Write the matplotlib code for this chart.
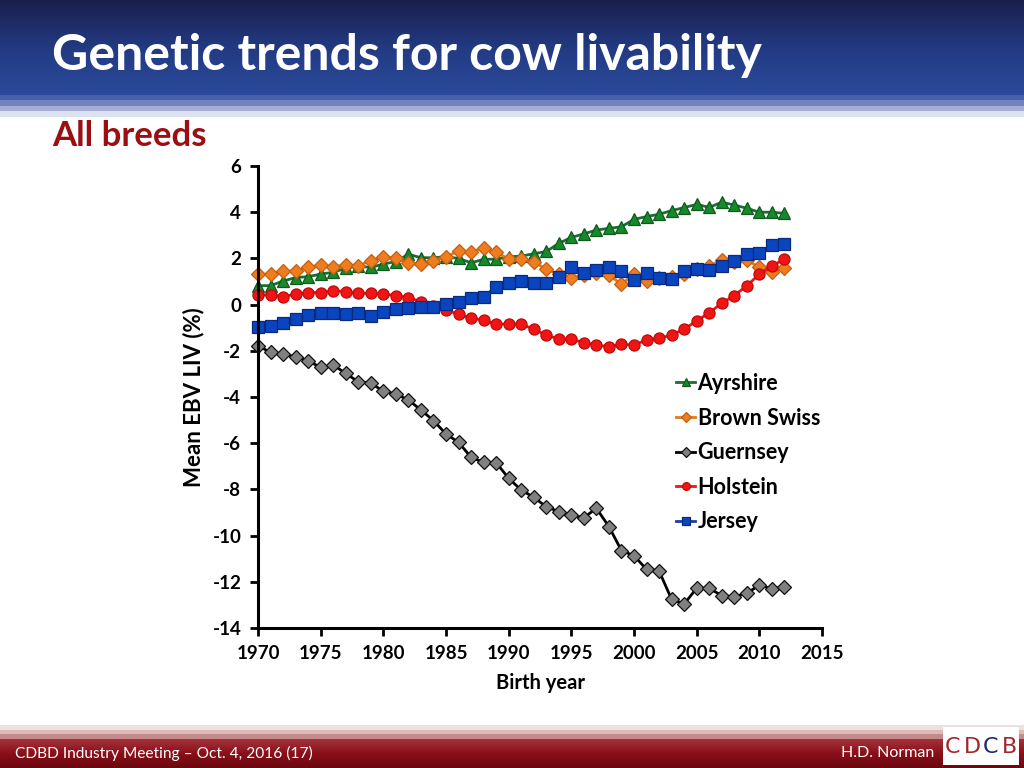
import numpy as np
import matplotlib
matplotlib.use("Agg")
import matplotlib.pyplot as plt
from matplotlib.colors import LinearSegmentedColormap
from matplotlib.patches import Rectangle

plt.rcParams["axes.unicode_minus"] = False

# ---------------- data ----------------
years = list(range(1970, 2013))

ayrshire = [0.82, 0.82, 1.02, 1.17, 1.21, 1.32, 1.40, 1.57, 1.67, 1.61,
            1.76, 1.86, 2.18, 2.03, 2.03, 2.07, 2.00, 1.81, 1.96, 1.97,
            2.07, 2.10, 2.20, 2.30, 2.65, 2.91, 3.06, 3.23, 3.30, 3.37,
            3.69, 3.81, 3.91, 4.07, 4.20, 4.34, 4.21, 4.43, 4.31, 4.17,
            4.00, 4.00, 3.95]

brown_swiss = [1.31, 1.31, 1.45, 1.45, 1.61, 1.71, 1.64, 1.71, 1.68, 1.90,
               2.07, 2.00, 1.81, 1.74, 1.90, 2.07, 2.32, 2.29, 2.44, 2.27,
               1.97, 1.97, 1.86, 1.53, 1.32, 1.14, 1.28, 1.38, 1.28, 0.88,
               1.32, 1.02, 1.14, 1.21, 1.32, 1.53, 1.67, 1.93, 1.86, 1.93,
               1.61, 1.40, 1.60]

guernsey = [-1.78, -2.07, -2.15, -2.25, -2.43, -2.72, -2.61, -2.98, -3.34, -3.41,
            -3.74, -3.87, -4.13, -4.56, -5.02, -5.60, -5.96, -6.61, -6.83, -6.84,
            -7.52, -8.03, -8.34, -8.75, -8.96, -9.11, -9.22, -8.82, -9.61, -10.65,
            -10.87, -11.46, -11.53, -12.76, -12.96, -12.28, -12.28, -12.60, -12.64, -12.50,
            -12.14, -12.31, -12.21]

holstein = [0.42, 0.42, 0.34, 0.46, 0.52, 0.52, 0.60, 0.56, 0.49, 0.49,
            0.46, 0.39, 0.30, 0.13, -0.05, -0.23, -0.42, -0.59, -0.67, -0.85,
            -0.84, -0.84, -1.07, -1.32, -1.49, -1.49, -1.65, -1.75, -1.82, -1.72,
            -1.75, -1.53, -1.46, -1.32, -1.06, -0.71, -0.35, 0.06, 0.39, 0.82,
            1.31, 1.67, 1.97]

jersey = [-0.96, -0.93, -0.78, -0.64, -0.45, -0.38, -0.38, -0.42, -0.38, -0.48,
          -0.31, -0.20, -0.13, -0.10, -0.09, 0.03, 0.13, 0.30, 0.35, 0.75,
          0.92, 1.04, 0.95, 0.95, 1.18, 1.61, 1.35, 1.50, 1.61, 1.47,
          1.06, 1.35, 1.17, 1.11, 1.45, 1.53, 1.50, 1.67, 1.90, 2.18,
          2.25, 2.58, 2.62]

x_ticks = [1970, 1975, 1980, 1985, 1990, 1995, 2000, 2005, 2010, 2015]
y_ticks = [-14, -12, -10, -8, -6, -4, -2, 0, 2, 4, 6]

title = "Genetic trends for cow livability"
subtitle = "All breeds"
footer_left = "CDBD Industry Meeting \u2013 Oct. 4, 2016 (17)"
footer_right = "H.D. Norman"

# ---------------- figure ----------------
W, H = 1024, 768
fig = plt.figure(figsize=(W / 100, H / 100), dpi=100)
fig.patch.set_facecolor("white")

FONT = "Lato"

# background axes in pixel coordinates
bg = fig.add_axes([0, 0, 1, 1], zorder=0)
bg.set_xlim(0, W)
bg.set_ylim(H, 0)
bg.axis("off")

# header gradient
hcmap = LinearSegmentedColormap.from_list("h", ["#1b1f4d", "#223a82", "#2b4a9c"])
grad = np.linspace(0, 1, 200).reshape(-1, 1)
bg.imshow(grad, cmap=hcmap, extent=(0, W, 95, 0), aspect="auto", zorder=1)
for y0, y1, c in [(95, 100, "#4860ab"), (100, 106, "#7282bf"),
                  (106, 111, "#a4aed5"), (111, 117, "#dde2f0")]:
    bg.add_patch(Rectangle((0, y0), W, y1 - y0, color=c, lw=0, zorder=2))

# footer
for y0, y1, c in [(725, 730, "#efdfdf"), (730, 734, "#ddb9b9"),
                  (734, 739, "#c58a8a")]:
    bg.add_patch(Rectangle((0, y0), W, y1 - y0, color=c, lw=0, zorder=2))
fcmap = LinearSegmentedColormap.from_list("f", ["#a3333b", "#8a0f18", "#6a0810"])
bg.imshow(grad, cmap=fcmap, extent=(0, W, H, 739), aspect="auto", zorder=1)

# texts
bg.text(52, 55, title, color="white", fontsize=36, fontfamily=FONT,
        fontweight="bold", va="center", ha="left", zorder=3)
bg.text(52, 136, subtitle, color="#9b0e12", fontsize=25, fontfamily=FONT,
        fontweight="bold", va="center", ha="left", zorder=3)
bg.text(15, 753, footer_left, color="white", fontsize=11.2, fontfamily=FONT,
        va="center", ha="left", zorder=3)
bg.text(934, 753, footer_right, color="white", fontsize=11.5, fontfamily=FONT,
        va="center", ha="right", zorder=3)

# CDCB logo
bg.add_patch(Rectangle((943, 727), 76, 38, color="white", lw=0, zorder=3))
logo_letters = [("C", 953, "#a3262d"), ("D", 972, "#a3262d"),
                ("C", 991, "#1f2a6b"), ("B", 1009, "#a3262d")]
for ch, xx, cc in logo_letters:
    bg.text(xx, 747, ch, color=cc, fontsize=16, fontfamily="DejaVu Sans",
            va="center", ha="center", zorder=4)

# ---------------- main chart ----------------
ax = fig.add_axes([258 / W, 1 - 628 / H, 564 / W, 462 / H], zorder=2)
ax.patch.set_alpha(0)

series = [
    ("Ayrshire", ayrshire, "#1f6b37", "^", "#168a2a", "#0e5a1c"),
    ("Brown Swiss", brown_swiss, "#e07a20", "D", "#ef7d1e", "#c45e12"),
    ("Guernsey", guernsey, "#000000", "D", "#808080", "#111111"),
    ("Holstein", holstein, "#e81818", "o", "#f01414", "#c00a0a"),
    ("Jersey", jersey, "#1a3fa0", "s", "#0a45c0", "#0a2a80"),
]
for name, vals, lc, mk, mfc, mec in series:
    ms = 8 if mk in ("o", "s", "^") else 7
    ax.plot(years, vals, color=lc, lw=2.0, marker=mk, markersize=ms,
            markerfacecolor=mfc, markeredgecolor=mec, markeredgewidth=0.9,
            label=name, clip_on=False)

ax.set_xlim(1970, 2015)
ax.set_ylim(-14, 6)
ax.set_xticks(x_ticks)
ax.set_yticks(y_ticks)
for s in ["top", "right"]:
    ax.spines[s].set_visible(False)
for s in ["left", "bottom"]:
    ax.spines[s].set_linewidth(2.2)
    ax.spines[s].set_color("black")
ax.tick_params(axis="both", direction="out", length=6, width=2.0,
               labelsize=13.5, pad=6)
for lab in ax.get_xticklabels() + ax.get_yticklabels():
    lab.set_fontfamily(FONT)
    lab.set_fontweight("bold")

ax.set_xlabel("Birth year", fontsize=14.5, fontfamily=FONT, fontweight="bold",
              labelpad=8)
ax.set_ylabel("Mean EBV LIV (%)", fontsize=16, fontfamily=FONT,
              fontweight="bold", labelpad=6)

leg = ax.legend(loc="upper left", bbox_to_anchor=(676 / W, 1 - 373 / H),
                bbox_transform=fig.transFigure, frameon=False,
                handlelength=0.9, handletextpad=0.1, labelspacing=0.63,
                borderpad=0, borderaxespad=0,
                prop={"family": FONT, "weight": "bold", "size": 15.5},
                markerscale=0.7)

fig.savefig("out.png", dpi=100, facecolor="white")
